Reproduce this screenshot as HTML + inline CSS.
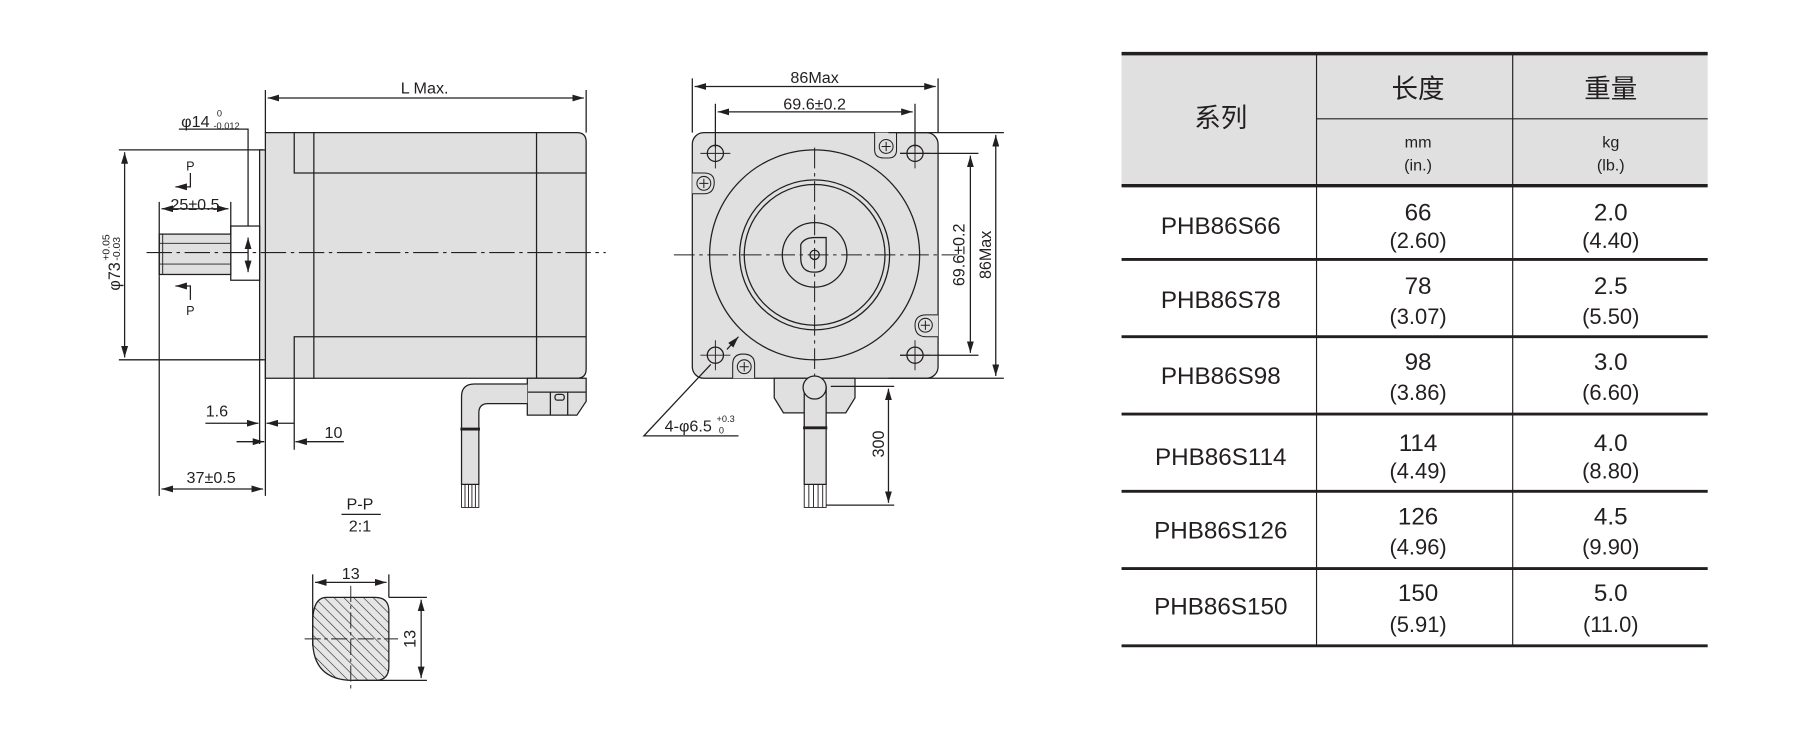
<!DOCTYPE html>
<html><head><meta charset="utf-8"><style>
html,body{margin:0;padding:0;background:#fff;}
svg{display:block;}
text{font-family:"Liberation Sans","Noto Sans CJK SC",sans-serif;fill:#231f20;}
</style></head><body>
<svg width="1800" height="730" viewBox="0 0 1560 633" preserveAspectRatio="none" xmlns="http://www.w3.org/2000/svg">
<defs>
<marker id="a" viewBox="0 0 10 6" refX="10" refY="3" markerWidth="10" markerHeight="6" orient="auto-start-reverse" markerUnits="userSpaceOnUse"><path d="M0,0 L10,3 L0,6 Z" fill="#231f20"/></marker>
<pattern id="h" width="6" height="6" patternUnits="userSpaceOnUse" patternTransform="rotate(-45)"><rect width="6" height="6" fill="#e6e6e6"/><line x1="0" y1="0" x2="0" y2="6" stroke="#231f20" stroke-width="1"/></pattern>
</defs>
<g stroke="#231f20" stroke-width="1.1" fill="none">
<!-- SIDE VIEW -->
<path d="M230,115 H500 Q508,115 508,123 V320 Q508,328 500,328 H230 Z" fill="#e0e0e0"/>
<path d="M255,115 V150 H508 M255,328 V292 H508 M272,115 V328 M465,115 V328"/>
<rect x="225" y="130" width="5" height="182" fill="#e0e0e0"/>
<path d="M230,312 V430 M225,312 V385 M255,328 V390"/>
<rect x="200" y="196" width="25" height="47" fill="#fff"/>
<rect x="138" y="203" width="62" height="35" fill="#e0e0e0"/>
<path d="M141,203 V238 M138,211 H200 M138,229 H200" stroke-width="0.8"/>
<path d="M127,219 H525" stroke-dasharray="22,4,3,4" stroke-width="0.9"/>
<!-- connector & cable -->
<path d="M457,328 H508 V348 L500,360 H457 Z" fill="#e0e0e0"/>
<path d="M457,340 H508 M477,340 V360 M492,340 V360"/>
<rect x="481" y="342" width="8" height="5" rx="2"/>
<path d="M457,333 H411 Q400,333 400,344 V420 H415 V358 Q415,350 423,350 H457" fill="#e0e0e0"/>
<path d="M399,372 H416" stroke-width="2.5"/>
<path d="M400,420 V440 H415 V420 M403,420 V440 M406,420 V440 M409,420 V440 M412,420 V440" stroke-width="0.8"/>
<!-- side dims -->
<path d="M230,78 V115 M508,78 V115"/>
<path d="M232,85 H506" marker-start="url(#a)" marker-end="url(#a)"/>
<path d="M155,112 H215 V196"/>
<path d="M215,206 V236" marker-start="url(#a)" marker-end="url(#a)"/>
<path d="M103,130 H228 M103,312 H228"/>
<path d="M108,132 V310" marker-start="url(#a)" marker-end="url(#a)"/>
<path d="M138,175 V240 M200,175 V203"/>
<path d="M140,181 H198" marker-start="url(#a)" marker-end="url(#a)"/>
<path d="M165,150 V162 H152" marker-end="url(#a)"/>
<path d="M165,270 V258 H152" marker-end="url(#a)" transform="translate(0,-10)"/>
<path d="M178,367 H224" marker-end="url(#a)"/>
<path d="M255,367 H231" marker-end="url(#a)"/>
<path d="M205,383 H229" marker-end="url(#a)"/>
<path d="M298,383 H256" marker-end="url(#a)"/>
<path d="M138,240 V430"/>
<path d="M140,424 H228" marker-start="url(#a)" marker-end="url(#a)"/>
<path d="M296,446 H330"/>
<!-- FRONT VIEW -->
<rect x="600" y="115" width="213" height="213" rx="10" fill="#e0e0e0"/>
<circle cx="706" cy="221" r="91"/>
<circle cx="706" cy="221" r="65"/>
<circle cx="706" cy="221" r="61"/>
<circle cx="706" cy="221" r="28"/>
<path d="M694,212 Q697,206 706,206 H716 V227 Q716,236 706,236 Q694,236 694,224 Z"/>
<circle cx="706" cy="221" r="4"/>
<g id="hole"><circle cx="620" cy="133" r="7"/><path d="M607,133 H633 M620,120 V146" stroke-width="0.8"/></g>
<use href="#hole" x="173"/><use href="#hole" y="175"/><use href="#hole" x="173" y="175"/>
<g stroke-width="0.9">
<path d="M758,115 V130 Q758,137 766,137 H770 Q777,137 777,130 V115" fill="#e0e0e0"/><circle cx="768" cy="127" r="6"/><path d="M764,127 H772 M768,123 V131"/>
<path d="M600,150 H610 Q619,150 619,158 Q619,168 610,168 H600" fill="#e0e0e0"/><circle cx="610" cy="159" r="6"/><path d="M606,159 H614 M610,155 V163"/>
<path d="M813,273 H803 Q793,273 793,282 Q793,292 803,292 H813" fill="#e0e0e0"/><circle cx="802" cy="282" r="6"/><path d="M798,282 H806 M802,278 V286"/>
<path d="M635,328 V316 Q635,307 644,307 Q654,307 654,316 V328" fill="#e0e0e0"/><circle cx="645" cy="318" r="6"/><path d="M641,318 H649 M645,314 V322"/>
</g>
<path d="M584,221 H830 M706,128 V345" stroke-dasharray="18,4,3,4" stroke-width="0.9"/>
<path d="M671,328 H741 V345 L733,358 H679 L671,345 Z" fill="#e0e0e0"/>
<path d="M697,335 V420 H716 V335" fill="#e0e0e0"/>
<circle cx="706" cy="336" r="10" fill="#e0e0e0"/>
<path d="M696,371 H717" stroke-width="2.5"/>
<path d="M697,420 V440 H716 V420 M701,420 V440 M705,420 V440 M709,420 V440 M713,420 V440" stroke-width="0.8"/>
<!-- front dims -->
<path d="M600,68 V115 M813,68 V115 M620,90 V128 M793,90 V128"/>
<path d="M602,75 H811" marker-start="url(#a)" marker-end="url(#a)"/>
<path d="M622,97 H791" marker-start="url(#a)" marker-end="url(#a)"/>
<path d="M770,115 H870 M770,328 H870 M780,133 H848 M780,308 H848"/>
<path d="M863,117 V326" marker-start="url(#a)" marker-end="url(#a)"/>
<path d="M841,135 V306" marker-start="url(#a)" marker-end="url(#a)"/>
<path d="M720,335 H775 M716,438 H775"/>
<path d="M770,337 V436" marker-start="url(#a)" marker-end="url(#a)"/>
<path d="M640,378 H558 L616,316"/>
<path d="M630,303 L640,292" marker-end="url(#a)"/>
<!-- SECTION -->
<path d="M283,518 H325 Q337,518 337,530 V578 Q337,590 325,590 H306 Q271,590 271,555 V540 Q271,518 283,518 Z" fill="url(#h)"/>
<path d="M264,554 H345 M304,508 V598" stroke-dasharray="14,3,3,3" stroke-width="0.8"/>
<path d="M271,498 V560 M337,498 V518 M337,518 H370 M306,590 H370"/>
<path d="M273,505 H335" marker-start="url(#a)" marker-end="url(#a)"/>
<path d="M365,520 V588" marker-start="url(#a)" marker-end="url(#a)"/>
</g>
<g font-size="14">
<text x="368" y="81" text-anchor="middle">L Max.</text>
<text x="157" y="110">φ14</text><text x="188" y="101" font-size="8">0</text><text x="185" y="112" font-size="8">-0.012</text>
<text x="165" y="148" text-anchor="middle" font-size="11">P</text>
<text x="165" y="273" text-anchor="middle" font-size="11">P</text>
<text x="169" y="182" text-anchor="middle">25±0.5</text>
<text transform="translate(104,252) rotate(-90)">φ73</text>
<text transform="translate(95,226) rotate(-90)" font-size="9">+0.05</text>
<text transform="translate(104,226) rotate(-90)" font-size="9">-0.03</text>
<text x="188" y="361" text-anchor="middle">1.6</text>
<text x="289" y="380" text-anchor="middle">10</text>
<text x="183" y="419" text-anchor="middle">37±0.5</text>
<text x="312" y="442" text-anchor="middle">P-P</text>
<text x="312" y="461" text-anchor="middle">2:1</text>
<text x="304" y="502" text-anchor="middle">13</text>
<text transform="translate(360,554) rotate(-90)" text-anchor="middle">13</text>
<text x="706" y="72" text-anchor="middle">86Max</text>
<text x="706" y="95" text-anchor="middle">69.6±0.2</text>
<text transform="translate(836,221) rotate(-90)" text-anchor="middle">69.6±0.2</text>
<text transform="translate(859,221) rotate(-90)" text-anchor="middle">86Max</text>
<text transform="translate(766,385) rotate(-90)" text-anchor="middle">300</text>
<text x="576" y="374">4-φ6.5</text><text x="621" y="366" font-size="8">+0.3</text><text x="623" y="376" font-size="8">0</text>
</g>
<!-- TABLE -->
<rect x="972" y="47" width="508" height="114" fill="#e0e0e0"/>
<g stroke="#231f20">
<path d="M972,46.5 H1480 M972,161 H1480" stroke-width="3"/>
<path d="M1141,103 H1480" stroke-width="1"/>
<path d="M1141,46 V560 M1311,46 V560" stroke-width="1"/>
<path d="M972,225 H1480 M972,292 H1480 M972,359 H1480 M972,426 H1480 M972,493 H1480 M972,560 H1480" stroke-width="2.5"/>
</g>
<g text-anchor="middle">
<text x="1058" y="110" font-size="23">系列</text>
<text x="1229" y="85" font-size="23">长度</text>
<text x="1396" y="85" font-size="23">重量</text>
<text x="1229" y="128" font-size="14">mm</text><text x="1229" y="148" font-size="14">(in.)</text>
<text x="1396" y="128" font-size="14">kg</text><text x="1396" y="148" font-size="14">(lb.)</text>
<g font-size="21">
<text x="1058" y="203">PHB86S66</text><text x="1229" y="191">66</text><text x="1396" y="191">2.0</text>
<text x="1058" y="267">PHB86S78</text><text x="1229" y="255">78</text><text x="1396" y="255">2.5</text>
<text x="1058" y="333">PHB86S98</text><text x="1229" y="321">98</text><text x="1396" y="321">3.0</text>
<text x="1058" y="403">PHB86S114</text><text x="1229" y="391">114</text><text x="1396" y="391">4.0</text>
<text x="1058" y="467">PHB86S126</text><text x="1229" y="455">126</text><text x="1396" y="455">4.5</text>
<text x="1058" y="533">PHB86S150</text><text x="1229" y="521">150</text><text x="1396" y="521">5.0</text>
</g>
<g font-size="19">
<text x="1229" y="215">(2.60)</text><text x="1396" y="215">(4.40)</text>
<text x="1229" y="281">(3.07)</text><text x="1396" y="281">(5.50)</text>
<text x="1229" y="347">(3.86)</text><text x="1396" y="347">(6.60)</text>
<text x="1229" y="415">(4.49)</text><text x="1396" y="415">(8.80)</text>
<text x="1229" y="481">(4.96)</text><text x="1396" y="481">(9.90)</text>
<text x="1229" y="548">(5.91)</text><text x="1396" y="548">(11.0)</text>
</g>
</g>
</svg>
</body></html>
